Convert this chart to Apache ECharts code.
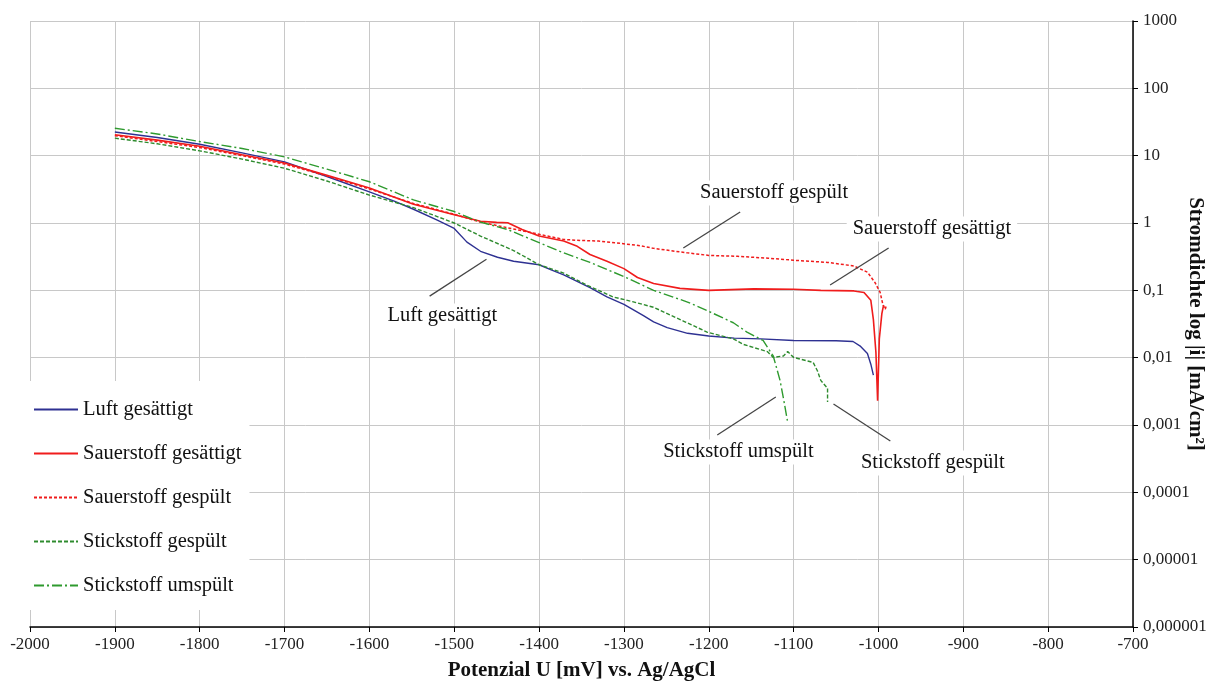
<!DOCTYPE html>
<html>
<head>
<meta charset="utf-8">
<script src="https://cdn.jsdelivr.net/npm/echarts@6/dist/echarts.min.js"></script>
<style>
  html, body { margin: 0; padding: 0; background: #fff; }
  #chart { width: 1219px; height: 697px; }
</style>
</head>
<body>
<div id="chart"></div>
<script>
// Potential sweep [mV vs. Ag/AgCl] against current density [mA/cm²]
const luftGesaettigt = [
  [-1900, 22.5], [-1850, 18.6], [-1800, 14.8], [-1750, 11.0], [-1700, 8.1],
  [-1650, 4.9], [-1600, 2.9], [-1570, 2.1], [-1548, 1.6], [-1520, 1.1],
  [-1500, 0.83], [-1485, 0.52], [-1469, 0.38], [-1449, 0.31], [-1430, 0.27],
  [-1400, 0.24], [-1385, 0.2], [-1371, 0.17], [-1340, 0.11], [-1320, 0.08],
  [-1300, 0.062], [-1277, 0.042], [-1265, 0.034], [-1249, 0.028], [-1225, 0.023],
  [-1200, 0.021], [-1170, 0.0195], [-1139, 0.019], [-1100, 0.018], [-1050, 0.0178],
  [-1030, 0.0174], [-1021, 0.0147], [-1013, 0.0115], [-1009, 0.008], [-1006, 0.0055]
];
const sauerstoffGesaettigt = [
  [-1900, 20.5], [-1850, 17.0], [-1800, 13.8], [-1750, 10.3], [-1700, 7.8],
  [-1650, 5.1], [-1600, 3.3], [-1548, 1.9], [-1500, 1.33], [-1469, 1.06],
  [-1450, 1.02], [-1437, 1.01], [-1420, 0.8], [-1400, 0.64], [-1371, 0.54],
  [-1355, 0.45], [-1340, 0.34], [-1320, 0.27], [-1300, 0.21], [-1284, 0.155],
  [-1265, 0.126], [-1234, 0.107], [-1200, 0.1], [-1147, 0.105], [-1100, 0.104],
  [-1068, 0.1], [-1029, 0.098], [-1017, 0.093], [-1009, 0.071], [-1006, 0.037],
  [-1003, 0.012], [-1001, 0.0023], [-999, 0.019], [-996, 0.045], [-994, 0.06]
];
const sauerstoffGespuelt = [
  [-1900, 19.8], [-1850, 16.2], [-1800, 13.2], [-1750, 10.0], [-1700, 7.5],
  [-1650, 5.0], [-1600, 3.2], [-1548, 1.95], [-1500, 1.35], [-1469, 1.03],
  [-1437, 0.85], [-1400, 0.68], [-1371, 0.57], [-1351, 0.55], [-1330, 0.54],
  [-1311, 0.51], [-1281, 0.46], [-1265, 0.42], [-1225, 0.36], [-1200, 0.33],
  [-1166, 0.32], [-1130, 0.3], [-1100, 0.28], [-1060, 0.26], [-1029, 0.23],
  [-1013, 0.186], [-1004, 0.13], [-998, 0.093], [-995, 0.063], [-992, 0.052],
  [-991, 0.058]
];
const stickstoffGespuelt = [
  [-1900, 18.2], [-1850, 15.0], [-1800, 11.8], [-1750, 8.9], [-1700, 6.5],
  [-1650, 4.2], [-1600, 2.6], [-1548, 1.69], [-1500, 1.0], [-1469, 0.64],
  [-1430, 0.39], [-1400, 0.24], [-1371, 0.18], [-1344, 0.12], [-1313, 0.08],
  [-1290, 0.068], [-1265, 0.056], [-1230, 0.035], [-1202, 0.024], [-1171, 0.019],
  [-1159, 0.0157], [-1131, 0.0123], [-1124, 0.0101], [-1112, 0.0106], [-1107, 0.0123],
  [-1100, 0.0101], [-1077, 0.0085], [-1072, 0.0064], [-1068, 0.0046], [-1060, 0.0035],
  [-1060, 0.0022]
];
const stickstoffUmspuelt = [
  [-1900, 25.5], [-1850, 21.0], [-1800, 16.2], [-1750, 12.8], [-1700, 9.6],
  [-1650, 6.3], [-1600, 4.1], [-1548, 2.2], [-1500, 1.48], [-1469, 1.03],
  [-1437, 0.8], [-1400, 0.51], [-1371, 0.36], [-1340, 0.26], [-1300, 0.16],
  [-1265, 0.1], [-1225, 0.067], [-1202, 0.05], [-1171, 0.033], [-1155, 0.024],
  [-1136, 0.018], [-1124, 0.0106], [-1116, 0.0046], [-1112, 0.0025], [-1107, 0.0011]
];

const seriesNames = [
  'Luft gesättigt', 'Sauerstoff gesättigt', 'Sauerstoff gespült',
  'Stickstoff gespült', 'Stickstoff umspült'
];
// Right-hand axis labels, one per decade from 10^-6 up to 10^3
const yTickLabels = ['0,000001', '0,00001', '0,0001', '0,001', '0,01', '0,1', '1', '10', '100', '1000'];

// Callout texts with their anchor and leader-line ends, in data units
const callouts = [
  { text: 'Luft gesättigt', at: [-1514, 0.0415], from: [-1529, 0.082], to: [-1462, 0.29] },
  { text: 'Sauerstoff gesättigt', at: [-937, 0.815], from: [-1057, 0.12], to: [-988, 0.426] },
  { text: 'Sauerstoff gespült', at: [-1123, 2.79], from: [-1230, 0.426], to: [-1163, 1.455] },
  { text: 'Stickstoff gespült', at: [-936, 0.000272], from: [-1053, 0.00205], to: [-986, 0.000578] },
  { text: 'Stickstoff umspült', at: [-1165, 0.000398], from: [-1190, 0.00071], to: [-1121, 0.0026] }
];

const SERIF = '"Liberation Serif", "Times New Roman", serif';

function calloutFor(name) {
  const c = callouts.find(o => o.text === name);
  return {
    markLine: {
      silent: true,
      symbol: ['none', 'none'],
      label: { show: false },
      lineStyle: { color: '#454545', width: 1.3, type: 'solid' },
      data: [[{ coord: c.from }, { coord: c.to }]]
    },
    markPoint: {
      silent: true,
      symbol: 'circle',
      symbolSize: 1,
      itemStyle: { color: 'rgba(0,0,0,0)' },
      label: {
        show: true,
        position: 'inside',
        formatter: c.text,
        fontFamily: SERIF,
        fontSize: 20.5,
        color: '#111',
        backgroundColor: '#fff',
        padding: [2, 6]
      },
      data: [{ coord: c.at }]
    }
  };
}

function makeSeries(name, data, color, width, dash) {
  return Object.assign({
    name: name,
    type: 'line',
    data: data,
    symbol: 'none',
    smooth: false,
    lineStyle: { color: color, width: width, type: dash },
    itemStyle: { color: color },
    z: 3
  }, calloutFor(name));
}

const chart = echarts.init(document.getElementById('chart'), null, { renderer: 'canvas' });

chart.setOption({
  animation: false,
  backgroundColor: '#fff',
  grid: { left: 30, right: 86, top: 21, bottom: 70, containLabel: false, outerBoundsMode: 'none' },
  legend: {
    data: seriesNames,
    orient: 'vertical',
    left: 30,
    top: 381,
    padding: [18, 8, 14, 3],
    itemGap: 23,
    itemWidth: 44,
    itemHeight: 14,
    backgroundColor: '#fff',
    itemStyle: { opacity: 0 },
    textStyle: { fontFamily: SERIF, fontSize: 20.5, color: '#111' },
    z: 10
  },
  xAxis: {
    type: 'value',
    min: -2000,
    max: -700,
    interval: 100,
    position: 'bottom',
    name: 'Potenzial U [mV] vs. Ag/AgCl',
    nameLocation: 'middle',
    nameGap: 33,
    nameTextStyle: { fontFamily: SERIF, fontSize: 21, fontWeight: 'bold', color: '#111' },
    axisLine: { show: true, onZero: false, lineStyle: { color: '#000', width: 1.5 } },
    axisTick: { show: true, length: 5, lineStyle: { color: '#000' } },
    axisLabel: { fontFamily: SERIF, fontSize: 17, color: '#222', margin: 9, formatter: v => String(v) },
    splitLine: { show: true, lineStyle: { color: '#c8c8c8', width: 1 } }
  },
  yAxis: {
    type: 'log',
    logBase: 10,
    min: 1e-6,
    max: 1000,
    position: 'right',
    name: 'Stromdichte log |i| [mA/cm²]',
    nameLocation: 'middle',
    nameRotate: -90,
    nameGap: 52,
    nameMoveOverlap: false,
    nameTextStyle: { fontFamily: SERIF, fontSize: 21, fontWeight: 'bold', color: '#111' },
    axisLine: { show: true, onZero: false, lineStyle: { color: '#000', width: 1.5 } },
    axisTick: { show: true, length: 5, lineStyle: { color: '#000' } },
    axisLabel: {
      fontFamily: SERIF,
      fontSize: 17,
      color: '#222',
      margin: 10,
      formatter: v => yTickLabels[Math.round(Math.log10(v)) + 6]
    },
    splitLine: { show: true, lineStyle: { color: '#c8c8c8', width: 1 } }
  },
  series: [
    makeSeries(seriesNames[0], luftGesaettigt, '#2e3192', 1.4, 'solid'),
    makeSeries(seriesNames[1], sauerstoffGesaettigt, '#f01c1c', 1.6, 'solid'),
    makeSeries(seriesNames[2], sauerstoffGespuelt, '#f01c1c', 1.5, [3, 2]),
    makeSeries(seriesNames[3], stickstoffGespuelt, '#2e8b2e', 1.4, [4, 2]),
    makeSeries(seriesNames[4], stickstoffUmspuelt, '#2e9a2e', 1.4, [10, 3, 2, 3])
  ]
});
</script>
</body>
</html>
